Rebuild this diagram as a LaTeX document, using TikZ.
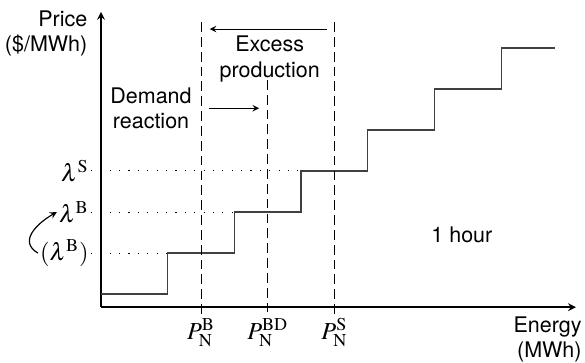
\documentclass[tikz,border=0pt]{standalone}
\usepackage{mathptmx}
\usepackage{fontspec}
\setmainfont{TeX Gyre Heros}
\begin{document}
\begin{tikzpicture}[x=1.2cm,y=0.738cm,>=stealth,
    axis/.style={line width=0.8pt,->},
    supply/.style={line width=0.7pt,black!75},
    guide/.style={dash pattern=on 5pt off 2.6pt,line width=0.5pt},
    level/.style={dash pattern=on 0.6pt off 4.2pt,line width=0.5pt},
    txt/.style={font=\fontsize{11}{13}\selectfont,inner sep=1pt},
    sym/.style={font=\fontsize{12.5}{14}\selectfont,inner sep=1pt}]
    \useasboundingbox (-1.514,-1.341) rectangle (7.256,7.488);
    % axes
    \coordinate (o) at (0,0);
    \coordinate (xend) at (7.12,0);
    \coordinate (yend) at (0,7.2);
    \draw[axis] (o) -- (xend);
    \draw[axis] (o) -- (yend);
    \node[txt,anchor=north east,align=right] (ylab) at (-0.17,7.28) {Price\\(\$/MWh)};
    \node[txt,anchor=north east,align=right] (xlab) at (7.24,-0.18) {Energy\\(MWh)};
    % supply curve
    \draw[supply] (0,0.32) -- (1,0.32) -- (1,1.32) -- (2,1.32) -- (2,2.32) -- (3,2.32)
        -- (3,3.32) -- (4,3.32) -- (4,4.32) -- (5,4.32) -- (5,5.32) -- (6,5.32)
        -- (6,6.32) -- (6.8,6.32);
    % price levels
    \node[sym,anchor=east] (ls) at (-0.15,3.32) {$\lambda^{\mathrm{S}}$};
    \node[sym,anchor=east] (lb) at (-0.15,2.32) {$\lambda^{\mathrm{B}}$};
    \node[sym,anchor=east] (lbold) at (-0.15,1.32) {$(\lambda^{\mathrm{B}})$};
    \coordinate (s3) at (3,3.32);
    \coordinate (s2) at (2,2.32);
    \coordinate (s1) at (1,1.32);
    \draw[level] (ls.east) -- (s3);
    \draw[level] (lb.east) -- (s2);
    \draw[level] (lbold.east) -- (s1);
    \draw[->,line width=0.6pt] (lbold.west) to[out=150,in=210,looseness=1.3] (lb.west);
    % quantities
    \node[sym,anchor=north,inner sep=2pt] (pb) at (1.5,-0.17) {$P_{\mathrm{N}}^{\mathrm{B}}$};
    \node[sym,anchor=north,inner sep=2pt] (pbd) at (2.5,-0.17) {$P_{\mathrm{N}}^{\mathrm{BD}}$};
    \node[sym,anchor=north,inner sep=2pt] (ps) at (3.5,-0.17) {$P_{\mathrm{N}}^{\mathrm{S}}$};
    \coordinate (pbtop) at (1.5,6.95);
    \coordinate (pbdtop) at (2.5,5.54);
    \coordinate (pstop) at (3.5,6.95);
    \draw[guide] (pbtop) -- (pb.north);
    \draw[guide] (pbdtop) -- (pbd.north);
    \draw[guide] (pstop) -- (ps.north);
    % shifts
    \node[txt,align=center] (excess) at (2.53,6.05) {Excess\\production};
    \node[txt,align=center] (demand) at (0.75,4.84) {Demand\\reaction};
    \coordinate (ea) at (3.39,6.78);
    \coordinate (eb) at (1.63,6.78);
    \coordinate (da) at (1.62,4.85);
    \coordinate (db) at (2.37,4.85);
    \draw[->,line width=0.5pt] (ea) -- (eb);
    \draw[->,line width=0.5pt] (da) -- (db);
    \node[txt] (hour) at (5.41,1.76) {1 hour};
\end{tikzpicture}
\end{document}
